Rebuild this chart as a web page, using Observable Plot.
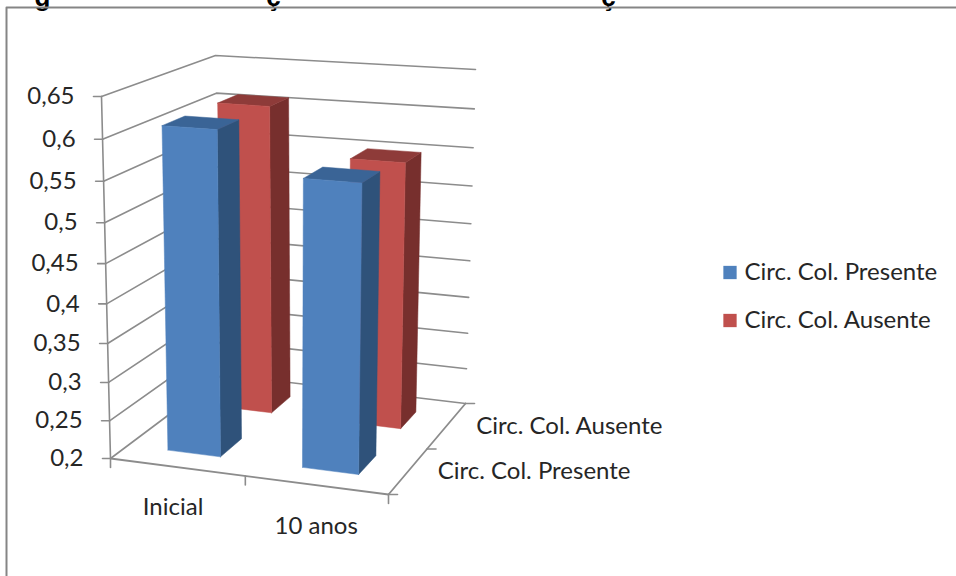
<!DOCTYPE html>
<html lang="pt">
<head>
<meta charset="utf-8">
<style>html,body{margin:0;padding:0;background:#fff}svg{display:block}</style>
<script src="https://cdn.jsdelivr.net/npm/d3@7"></script>
<script src="https://cdn.jsdelivr.net/npm/@observablehq/plot@0.6"></script>
</head>
<body>
<script>
// Data
const categories = ["Inicial", "10 anos"];
const seriesNames = ["Circ. Col. Presente", "Circ. Col. Ausente"];
const presente = [0.611, 0.561];
const ausente = [0.61, 0.551];
const valueTicks = [0.2, 0.25, 0.3, 0.35, 0.4, 0.45, 0.5, 0.55, 0.6, 0.65];
const titleFragments = [["g", 42], ["ç", 273], ["ç", 608]];

// Bar placement along the two floor axes (fractions of the floor)
const catSpan = [[0.145, 0.338], [0.639, 0.845]];
const seriesSpan = [[0.16, 0.37], [0.67, 0.855]];
const catTicks = [0, 0.485, 1];
const seriesTicks = [0, 0.5, 1];
const catLabelAt = [0.225, 0.74];

// Styles
const faces = {
  [seriesNames[0]]: {front: "#4F81BD", side: "#2F527A", top: "#3A6496"},
  [seriesNames[1]]: {front: "#C0504D", side: "#772F2D", top: "#8E3B39"}
};
const gray = "#8c8c8c";
const font = "Lato, 'Open Sans', sans-serif";

// Camera: where the chart box's corners fall in the picture
const floor = {fl: [110, 458], fr: [388, 494], bl: [222, 374], br: [465, 403]};
const ceil = {fl: [101, 96], fr: [394, 116], bl: [215, 55], br: [475, 69]};
const lerp = (a, b, t) => a + (b - a) * t;
const quad = (c, u, v, i) => lerp(lerp(c.fl[i], c.fr[i], u), lerp(c.bl[i], c.br[i], u), v);
function project(u, v, value) {
  const t = (value - 0.2) / 0.45;
  const h = t - 0.07 * t * (1 - t); // slight foreshortening of the value axis
  return {
    x: lerp(quad(floor, u, v, 0), quad(ceil, u, v, 0), h),
    y: lerp(quad(floor, u, v, 1), quad(ceil, u, v, 1), h)
  };
}

// Solid bars: three visible faces per bar
function barFaces(series, si) {
  const out = [];
  series.forEach((val, ci) => {
    const [u0, u1] = catSpan[ci], [v0, v1] = seriesSpan[si];
    const f = faces[seriesNames[si]];
    const poly = (id, fill, pts) => pts.forEach(p => out.push({id: `${si}-${ci}-${id}`, fill, ...project(...p)}));
    poly("side", f.side, [[u1, v0, 0.2], [u1, v1, 0.2], [u1, v1, val], [u1, v0, val], [u1, v0, 0.2]]);
    poly("top", f.top, [[u0, v0, val], [u1, v0, val], [u1, v1, val], [u0, v1, val], [u0, v0, val]]);
    poly("front", f.front, [[u0, v0, 0.2], [u1, v0, 0.2], [u1, v0, val], [u0, v0, val], [u0, v0, 0.2]]);
  });
  return out;
}
const solid = (rows) => Plot.line(rows, {x: "x", y: "y", z: "id", fill: "fill", stroke: "fill", strokeWidth: 0.5, curve: "linear"});

// Wall gridlines: front-left -> back-left -> back-right at each tick
const grid = valueTicks.flatMap(val => [[0, 0], [0, 1], [1, 1]].map(([u, v]) => ({val, ...project(u, v, val)})));
const floorEdges = [[[0, 0], [1, 0]], [[1, 0], [1, 1]]].flatMap((seg, i) =>
  seg.map(([u, v]) => ({id: i, ...project(u, v, 0.2)})));
const valueAxis = [0, 1].map(k => project(0, 0, k ? 0.65 : 0.2));

// Tick marks
const tickSegs = [];
const addTick = (id, p, dx, dy) => {
  tickSegs.push({id, x: p.x, y: p.y}, {id, x: p.x + dx, y: p.y + dy});
};
valueTicks.forEach((val) => addTick("v" + val, project(0, 0, val), -8, 0));
catTicks.forEach(u => addTick("c" + u, project(u, 0, 0.2), 0, 9));
seriesTicks.forEach(v => addTick("s" + v, project(1, v, 0.2), 9, 0));

const valueLabels = valueTicks.map(val => {
  const p = project(0, 0, val);
  return {label: String(val).replace(".", ","), x: p.x - 27, y: p.y};
});
const catLabels = categories.map((label, i) => {
  const p = project(catLabelAt[i], 0, 0.2);
  return {label, x: p.x, y: p.y + 41};
});
const seriesLabels = seriesNames.map((label, i) => {
  const p = project(1, 0.25 + i * 0.5, 0.2);
  return {label, x: p.x + 30, y: p.y};
});
const legend = seriesNames.map((label, i) => ({label, fill: faces[label].front, y: 272 + i * 48}));

// Frame of the figure, running off the picture at the right and bottom
const frame = [{x: 6, y: 576}, {x: 6, y: 7}, {x: 956, y: 7}];

const textBase = {fontFamily: font, fontSize: 24, fill: "#262626", lineAnchor: "middle"};

const chart = Plot.plot({
  width: 956,
  height: 576,
  margin: 0,
  x: {domain: [0, 956], range: [0, 956], axis: null},
  y: {domain: [0, 576], range: [0, 576], axis: null},
  marks: [
    Plot.text(titleFragments, {x: d => d[1], y: 0, text: d => d[0], fontFamily: "'Liberation Sans'", fontWeight: "bold", fontSize: 26, lineAnchor: "bottom", dy: 5, fill: "#000"}),
    Plot.line(frame, {x: "x", y: "y", stroke: "#858585", strokeWidth: 2}),
    Plot.line(grid, {x: "x", y: "y", z: "val", stroke: gray, strokeWidth: 1.6}),
    Plot.line(floorEdges, {x: "x", y: "y", z: "id", stroke: gray, strokeWidth: 1.8}),
    Plot.line(valueAxis, {x: "x", y: "y", stroke: gray, strokeWidth: 1.6}),
    Plot.line(tickSegs, {x: "x", y: "y", z: "id", stroke: gray, strokeWidth: 1.6}),
    solid(barFaces(ausente, 1)),
    solid(barFaces(presente, 0)),
    Plot.text(valueLabels, {...textBase, x: "x", y: "y", text: "label", textAnchor: "end"}),
    Plot.text(catLabels, {...textBase, x: "x", y: "y", text: "label", textAnchor: "middle"}),
    Plot.text(seriesLabels, {...textBase, x: "x", y: "y", text: "label", textAnchor: "start"}),
    Plot.dot(legend, {x: 729.5, y: "y", symbol: "square", r: 7.5, fill: "fill"}),
    Plot.text(legend, {...textBase, x: 744, y: "y", text: "label", textAnchor: "start"})
  ]
});
document.body.appendChild(chart);
</script>
</body>
</html>
